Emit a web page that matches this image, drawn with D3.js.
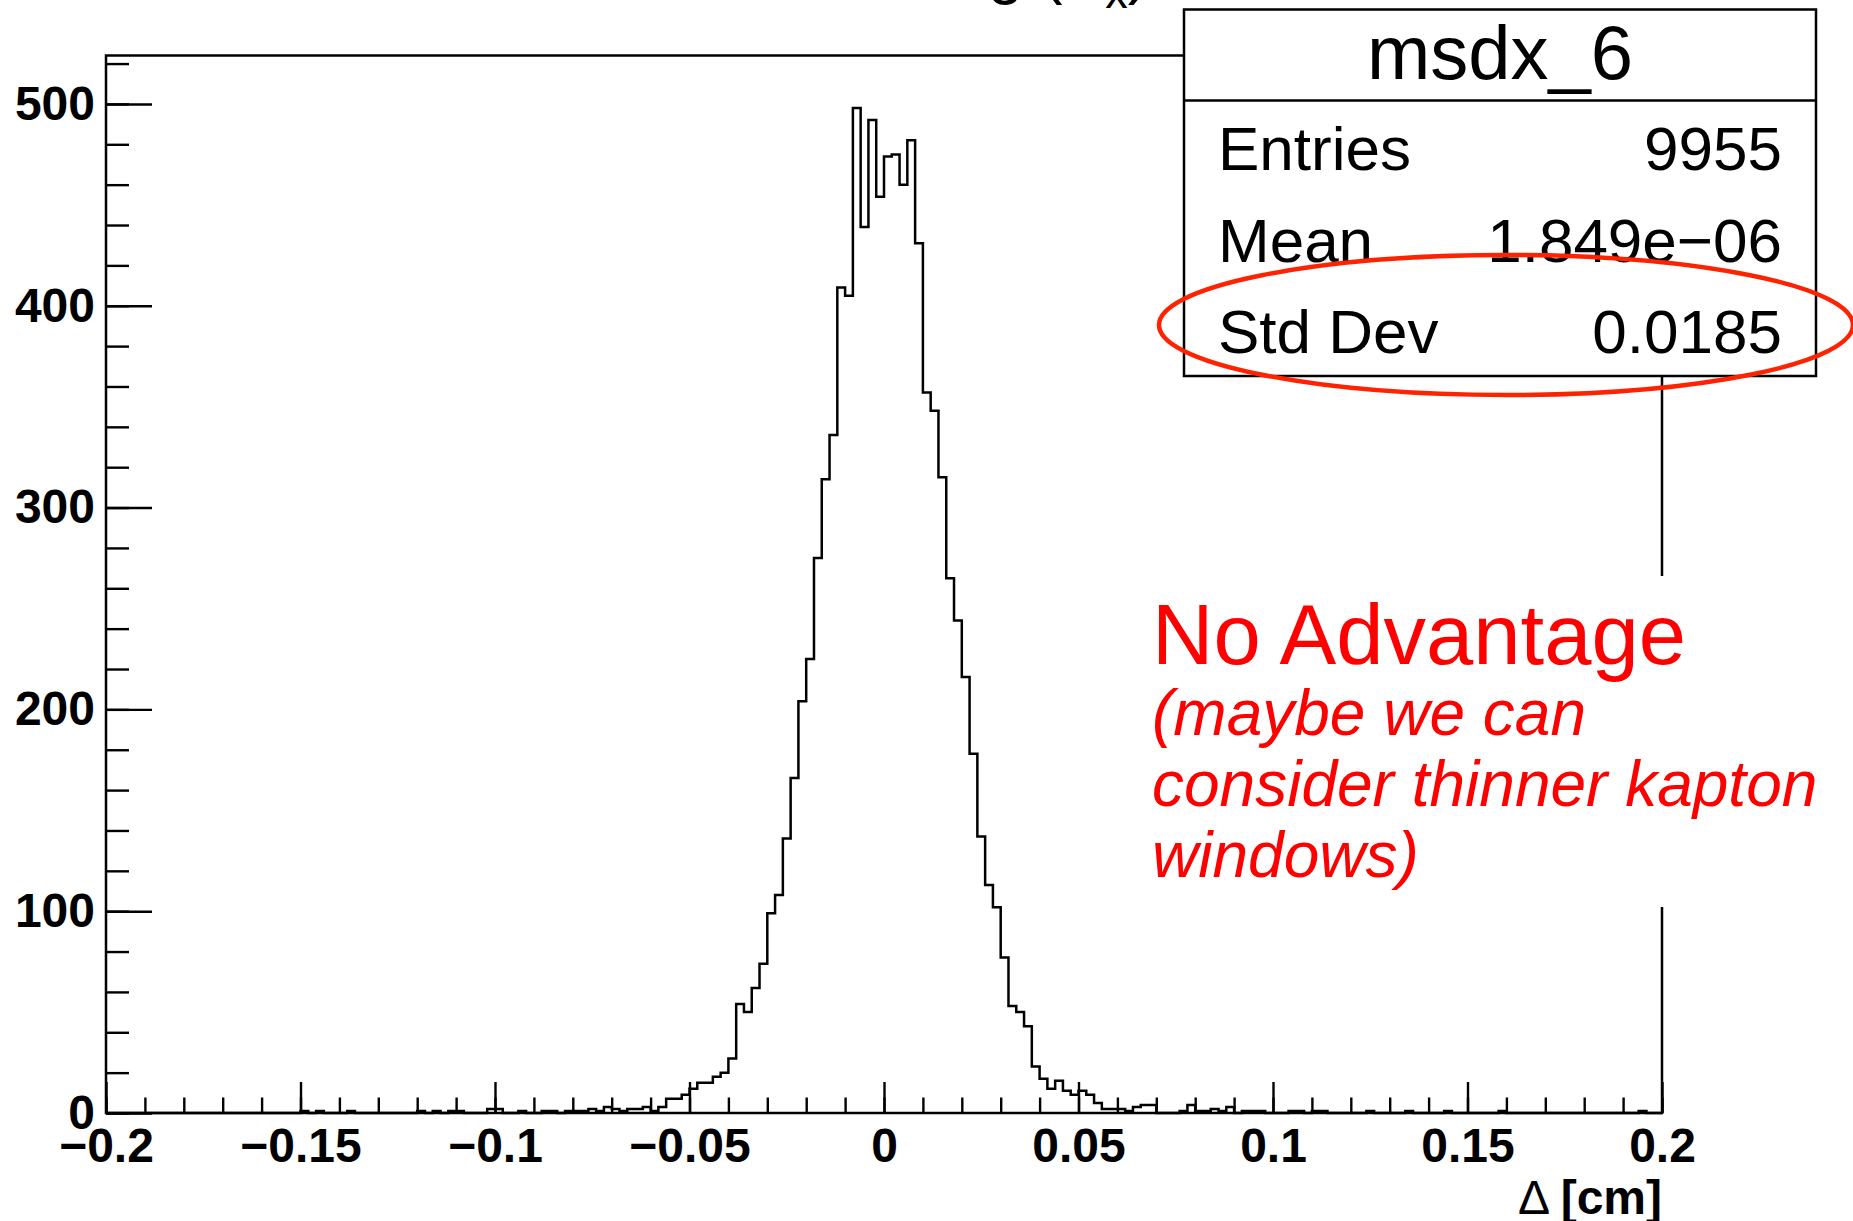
<!doctype html>
<html>
<head>
<meta charset="utf-8">
<style>
    body { margin: 0; background: #ffffff; }
    text { font-family: "Liberation Sans", Arial, Helvetica, sans-serif; }
</style>
</head>
<body>
<div id="chart"></div>
<script src="https://d3js.org/d3.v7.min.js"></script>
<script>

// histogram msdx_6 : 200 bins between -0.2 and 0.2
var xMin = -0.2, xMax = 0.2, nBins = 200;

var counts = [
    0, 0, 0, 0, 0, 0, 0, 0, 0, 0, 0, 0, 0, 0, 0, 0, 0, 0, 0, 0,
    0, 0, 0, 0, 0, 1, 0, 1, 0, 0, 0, 1, 0, 0, 0, 0, 0, 0, 0, 0,
    1, 0, 1, 0, 1, 1, 0, 0, 0, 2, 2, 0, 0, 1, 0, 0, 1, 1, 0, 1,
    1, 1, 2, 1, 3, 2, 1, 2, 2, 3, 1, 3, 7, 7, 9, 12, 15, 15, 18, 20,
    27, 54, 50, 62, 74, 99, 108, 136, 166, 204, 225, 275, 314, 336, 409, 405, 498, 439, 492, 454,
    474, 475, 460, 482, 431, 357, 348, 315, 265, 244, 216, 178, 137, 113, 102, 77, 53, 50, 43, 23,
    17, 12, 16, 11, 9, 11, 9, 5, 2, 2, 2, 1, 3, 4, 4, 0, 0, 0, 1, 4,
    1, 1, 2, 1, 3, 0, 1, 1, 1, 0, 0, 0, 1, 1, 0, 1, 1, 0, 0, 0,
    0, 0, 1, 0, 0, 0, 0, 1, 0, 0, 0, 0, 1, 0, 0, 0, 0, 0, 0, 1,
    0, 0, 0, 0, 0, 0, 0, 0, 0, 0, 0, 0, 0, 0, 0, 0, 0, 1, 0, 0
];

var xMajorTicks = [-0.2, -0.15, -0.1, -0.05, 0, 0.05, 0.1, 0.15, 0.2];
var xTickLabels = ["\u22120.2", "\u22120.15", "\u22120.1", "\u22120.05", "0", "0.05", "0.1", "0.15", "0.2"];
var yMajorTicks = [0, 100, 200, 300, 400, 500];
var yTickLabels = ["0", "100", "200", "300", "400", "500"];
var yMax = 524;

var statTitle = "msdx_6";
var statNames = ["Entries", "Mean", "Std Dev"];
var statValues = ["9955", "1.849e\u221206", "0.0185"];

var noteTitle = "No Advantage";
var noteLines = ["(maybe we can", "consider thinner kapton", "windows)"];

// ------------------------------------------------
var W = 1853, H = 1221;
var frame = {left: 106, right: 1662, top: 55.5, bottom: 1113};

var svg = d3.select("#chart").append("svg")
    .attr("width", W)
    .attr("height", H);

svg.append("rect")
    .attr("width", W)
    .attr("height", H)
    .attr("fill", "#ffffff");

var x = d3.scaleLinear()
    .domain([xMin, xMax])
    .range([frame.left, frame.right]);

var y = d3.scaleLinear()
    .domain([0, yMax])
    .range([frame.bottom, frame.top]);

// title, mostly above the top edge of the canvas
var title = svg.append("text")
    .attr("x", 1149)
    .attr("y", -8)
    .attr("text-anchor", "end")
    .attr("font-size", "64px")
    .attr("fill", "black");
title.append("tspan").text("Smearing (\u0394");
title.append("tspan").attr("font-size", "45px").attr("dy", 16).text("x");
title.append("tspan").attr("dy", -16).text(")");

// minor + major ticks on x
var xMinor = d3.range(-20, 21).map(function(i) { return i / 100; });
svg.append("g")
    .attr("class", "axis")
    .attr("transform", "translate(0," + frame.bottom + ")")
    .call(d3.axisBottom(x).tickValues(xMinor).tickSize(-15.5).tickSizeOuter(0).tickFormat(""));

svg.append("g")
    .attr("class", "axis")
    .attr("transform", "translate(0," + frame.bottom + ")")
    .call(d3.axisBottom(x)
        .tickValues(xMajorTicks)
        .tickSize(-31)
        .tickSizeOuter(0)
        .tickPadding(15)
        .tickFormat(function(d, i) { return xTickLabels[i]; }));

// minor + major ticks on y
var yMinor = d3.range(0, 27).map(function(i) { return i * 20; });
svg.append("g")
    .attr("class", "axis")
    .attr("transform", "translate(" + frame.left + ",0)")
    .call(d3.axisLeft(y).tickValues(yMinor).tickSize(-23).tickSizeOuter(0).tickFormat(""));

svg.append("g")
    .attr("class", "axis")
    .attr("transform", "translate(" + frame.left + ",0)")
    .call(d3.axisLeft(y)
        .tickValues(yMajorTicks)
        .tickSize(-46)
        .tickSizeOuter(0)
        .tickPadding(11)
        .tickFormat(function(d, i) { return yTickLabels[i]; }));

svg.selectAll(".axis .domain").remove();
svg.selectAll(".axis line")
    .attr("stroke", "black")
    .attr("stroke-width", 2.4);
svg.selectAll(".axis text")
    .attr("fill", "black")
    .attr("font-size", "48px")
    .attr("font-weight", "bold")
    .attr("font-family", "'Liberation Sans', Arial, sans-serif");

// x axis title
var xt = svg.append("text")
    .attr("x", frame.right)
    .attr("y", 1214)
    .attr("text-anchor", "end")
    .attr("font-size", "48px")
    .attr("fill", "black");
xt.append("tspan").text("\u0394 ");
xt.append("tspan").attr("font-weight", "bold").text("[cm]");

// histogram outline
var pts = counts.map(function(c, i) {
    return [xMin + i * (xMax - xMin) / nBins, c];
});
pts.push([xMax, counts[nBins - 1]]);

svg.append("path")
    .datum(pts)
    .attr("fill", "none")
    .attr("stroke", "black")
    .attr("stroke-width", 2.5)
    .attr("d", d3.line()
        .curve(d3.curveStepAfter)
        .x(function(d) { return x(d[0]); })
        .y(function(d) { return y(d[1]); }));

// frame
svg.append("rect")
    .attr("x", frame.left)
    .attr("y", frame.top)
    .attr("width", frame.right - frame.left)
    .attr("height", frame.bottom - frame.top)
    .attr("fill", "none")
    .attr("stroke", "black")
    .attr("stroke-width", 2.5);

// stats box
var box = {x: 1184, y: 9.5, w: 632, h: 366.5};
svg.append("rect")
    .attr("x", box.x)
    .attr("y", box.y)
    .attr("width", box.w)
    .attr("height", box.h)
    .attr("fill", "white")
    .attr("stroke", "black")
    .attr("stroke-width", 2.5);

svg.append("line")
    .attr("x1", box.x)
    .attr("x2", box.x + box.w)
    .attr("y1", 100.5)
    .attr("y2", 100.5)
    .attr("stroke", "black")
    .attr("stroke-width", 2.5);

svg.append("text")
    .attr("x", box.x + box.w / 2)
    .attr("y", 79)
    .attr("text-anchor", "middle")
    .attr("font-size", "76px")
    .attr("fill", "black")
    .text(statTitle);

var rowY = [170, 262, 353];
statNames.forEach(function(n, i) {
    svg.append("text")
        .attr("x", 1218)
        .attr("y", rowY[i])
        .attr("font-size", "62px")
        .attr("fill", "black")
        .text(n);
    svg.append("text")
        .attr("x", 1782)
        .attr("y", rowY[i])
        .attr("text-anchor", "end")
        .attr("font-size", "62px")
        .attr("fill", "black")
        .text(statValues[i]);
});

// red ellipse around the std dev
svg.append("ellipse")
    .attr("cx", 1506)
    .attr("cy", 325)
    .attr("rx", 347)
    .attr("ry", 70)
    .attr("fill", "none")
    .attr("stroke", "#ff2200")
    .attr("stroke-width", 4.5);

// comment box (white, hides the frame line)
svg.append("rect")
    .attr("x", 1140)
    .attr("y", 576)
    .attr("width", 560)
    .attr("height", 331)
    .attr("fill", "white");

svg.append("text")
    .attr("x", 1152)
    .attr("y", 664)
    .attr("font-size", "85px")
    .attr("fill", "#ff0000")
    .text(noteTitle);

noteLines.forEach(function(t, i) {
    svg.append("text")
        .attr("x", 1152)
        .attr("y", 735 + i * 71)
        .attr("font-size", "64px")
        .attr("font-style", "italic")
        .attr("fill", "#ff0000")
        .text(t);
});

</script>
</body>
</html>
